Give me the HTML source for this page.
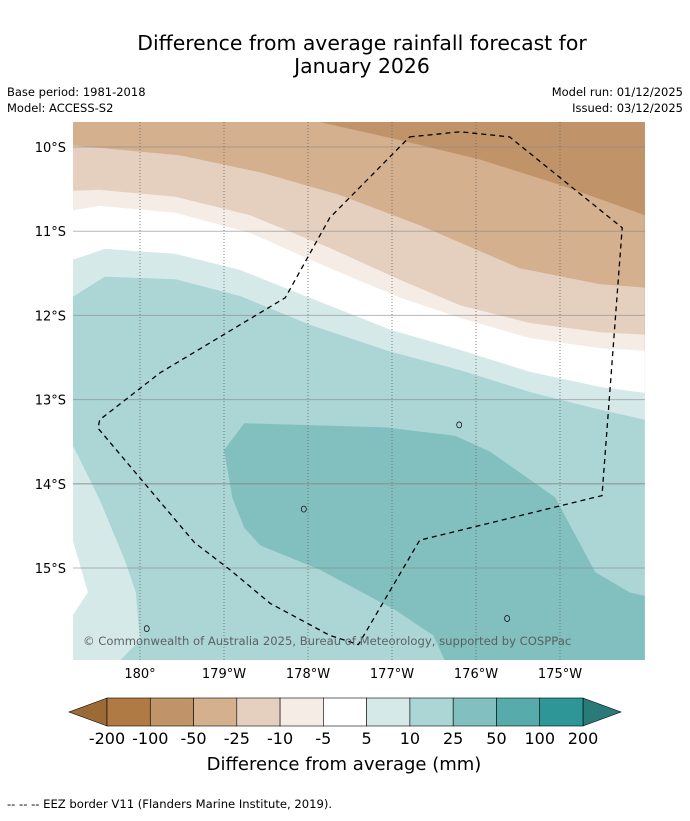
<!DOCTYPE html>
<html><head><meta charset="utf-8"><style>
body{margin:0;background:#fff;font-family:"Liberation Sans",sans-serif;}
svg text{font-family:"DejaVu Sans","Liberation Sans",sans-serif;}
</style></head><body>
<svg id="c" width="690" height="816" xmlns="http://www.w3.org/2000/svg">
<rect width="690" height="816" fill="#fff"/>
<text x="362" y="50" font-size="20.4" text-anchor="middle">Difference from average rainfall forecast for</text>
<text x="362" y="73" font-size="20.4" text-anchor="middle">January 2026</text>
<text x="7" y="96" font-size="11.5">Base period: 1981-2018</text>
<text x="7" y="112" font-size="11.5">Model: ACCESS-S2</text>
<text x="683" y="96" font-size="11.5" text-anchor="end">Model run: 01/12/2025</text>
<text x="683" y="112" font-size="11.5" text-anchor="end">Issued: 03/12/2025</text>
<defs><clipPath id="mc"><rect x="73" y="122" width="572" height="538"/></clipPath></defs>
<g id="map" clip-path="url(#mc)"></g>
<g id="cb"></g>
<text x="344" y="770" font-size="18" text-anchor="middle">Difference from average (mm)</text>
<text x="7" y="808" font-size="11.6">--  --  -- EEZ border V11 (Flanders Marine Institute, 2019).</text>
</svg>
<script>
const latTicks=[10,11,12,13,14,15];
const lonTicks=[180,181,182,183,184,185];
const lonLabels=["180°","179°W","178°W","177°W","176°W","175°W"];
const cbLevels=["-200","-100","-50","-25","-10","-5","5","10","25","50","100","200"];
const cbColors=["#b07a44","#c09468","#d4b08e","#e5d0c0","#f5ece6","#ffffff","#d5e9e9","#acd5d6","#82c0c0","#58abab","#2e9696"];
const cbUnder="#9c6a37", cbOver="#2a7a7a";
const b1=[[179.2,9.7],[182.12,9.7],[183.10,9.92],[184.05,10.15],[185.00,10.45],[186.01,10.81]];
const b2=[[179.2,9.98],[180.48,10.10],[181.43,10.30],[182.38,10.57],[183.33,10.93],[184.52,11.44],[185.48,11.63],[186.01,11.67]];
const b3=[[179.2,10.52],[179.52,10.51],[180.42,10.59],[181.31,10.81],[182.26,11.20],[183.10,11.58],[183.81,11.88],[184.64,12.09],[185.48,12.20],[186.01,12.23]];
const b4=[[179.2,10.75],[179.52,10.70],[180.42,10.78],[181.31,11.02],[182.26,11.44],[183.10,11.79],[183.81,12.03],[184.64,12.27],[185.48,12.39],[186.01,12.42]];
const b5=[[179.2,11.34],[179.58,11.21],[180.42,11.27],[181.19,11.46],[182.02,11.79],[182.98,12.17],[183.81,12.41],[184.64,12.67],[185.48,12.85],[186.01,12.92]];
const b6=[[179.2,11.78],[179.58,11.54],[180.42,11.57],[181.19,11.77],[182.02,12.11],[182.98,12.43],[183.81,12.65],[184.64,12.91],[185.48,13.12],[186.01,13.24]];
const patch=[[181.24,13.28],[182.92,13.33],[183.75,13.43],[184.17,13.62],[184.94,14.16],[185.42,15.05],[185.83,15.29],[186.01,15.33],[186.01,16.1],[183.63,16.1],[183.49,15.80],[183.04,15.50],[182.14,15.02],[181.43,14.73],[181.24,14.52],[181.10,14.17],[181.00,13.60]];
const leftTeal=[[179.2,13.54],[179.52,14.19],[179.82,14.91],[179.95,15.29],[180,15.86],[179.76,16.1],[179.2,16.1]];
const leftWhite=[[179.2,14.67],[179.38,15.29],[179.2,15.56]];
const eez=[[183.21,9.88],[183.81,9.82],[184.40,9.88],[185.74,10.96],[185.50,14.14],[183.33,14.67],[182.60,15.91],[182.26,15.80],[181.55,15.42],[181.07,15.02],[180.65,14.70],[179.50,13.34],[179.52,13.24],[180.24,12.68],[181.73,11.79],[182.26,10.84],[183.21,9.88]];
const islands=[[183.80,13.30],[181.95,14.30],[184.37,15.60],[180.08,15.72]];
const X=l=>140+(l-180)*84, Y=t=>147+(t-10)*84.2;
const NS="http://www.w3.org/2000/svg";
const map=document.getElementById('map'), svg=document.getElementById('c'), cb=document.getElementById('cb');
function mk(tag,at,parent){const e=document.createElementNS(NS,tag);for(const k in at)e.setAttribute(k,at[k]);(parent||map).appendChild(e);return e;}
function pts(a){return a.map(p=>X(p[0]).toFixed(1)+","+Y(p[1]).toFixed(1)).join(" ");}
let bg=mk('rect',{x:73,y:122,width:572,height:538,fill:"#c09468"});


const layers=[[b1,"#d4b08e","band-minus50-minus25"],[b2,"#e5d0c0","band-minus25-minus10"],[b3,"#f5ece6","band-minus10-minus5"],[b4,"#ffffff","band-minus5-5"],[b5,"#d5e9e9","band-5-10"],[b6,"#acd5d6","band-10-25"]];
layers.forEach(L=>{const a=L[0].concat([[186.01,16.1],[179.2,16.1]]);
 const p=mk('polygon',{points:pts(a),fill:L[1]});
 
 });
let pp=mk('polygon',{points:pts(patch),fill:"#82c0c0"});


let lt=mk('polygon',{points:pts(leftTeal),fill:"#d5e9e9"});


let lw=mk('polygon',{points:pts(leftWhite),fill:"#ffffff"});


latTicks.forEach(t=>{const l=mk('line',{x1:73,x2:645,y1:Y(t),y2:Y(t),stroke:"#888",'stroke-width':t==14?1.5:1,opacity:0.6});
 
 
 const tx=mk('text',{x:66,y:Y(t)+5,'font-size':13,'text-anchor':'end'},svg);tx.textContent=t+"°S";
 
 });
lonTicks.forEach((t,i)=>{const l=mk('line',{x1:X(t),x2:X(t),y1:122,y2:660,stroke:"#666",'stroke-width':1,'stroke-dasharray':"1,2",opacity:0.8});
 
 
 const tx=mk('text',{x:X(t),y:678,'font-size':13,'text-anchor':'middle'},svg);tx.textContent=lonLabels[i];
 
 });
islands.forEach(p=>{const e=mk('ellipse',{cx:X(p[0]),cy:Y(p[1]),rx:2.5,ry:3,fill:"none",stroke:"#000",'stroke-width':0.7});
 
 });
let ez=mk('polyline',{points:pts(eez),fill:"none",stroke:"#000",'stroke-width':1.3,'stroke-dasharray':"5,4"});


let cp=mk('text',{x:83,y:645,'font-size':11.6,fill:"#555",opacity:0.9});
cp.textContent="© Commonwealth of Australia 2025, Bureau of Meteorology, supported by COSPPac";


const cx0=107,cx1=583,cy0=698,cy1=726,w=(cx1-cx0)/cbColors.length;
let ua=mk('polygon',{points:`${cx0},${cy0} ${cx0},${cy1} 69,${(cy0+cy1)/2}`,fill:cbUnder,stroke:"#000",'stroke-width':0.6},cb);


let oa=mk('polygon',{points:`${cx1},${cy0} ${cx1},${cy1} 621,${(cy0+cy1)/2}`,fill:cbOver,stroke:"#000",'stroke-width':0.6},cb);


cbColors.forEach((c,i)=>{const r=mk('rect',{x:cx0+i*w,y:cy0,width:w,height:cy1-cy0,fill:c,stroke:"#000",'stroke-width':0.6},cb);
 
 });
cbLevels.forEach((s,i)=>{const t=mk('text',{x:cx0+i*w,y:744,'font-size':16,'text-anchor':'middle'},cb);t.textContent=s;
 
 });
</script>
</body></html>
